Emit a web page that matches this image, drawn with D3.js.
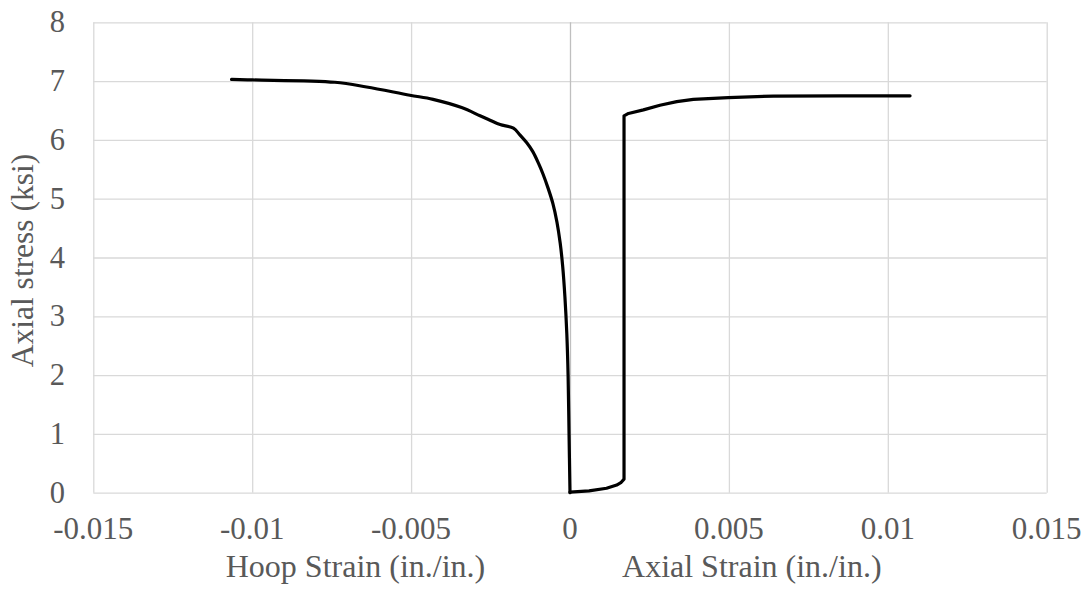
<!DOCTYPE html>
<html>
<head>
<meta charset="utf-8">
<script src="https://cdn.jsdelivr.net/npm/d3@7/dist/d3.min.js"></script>
<style>
  html, body { margin: 0; padding: 0; background: #fff; }
  svg { display: block; }
</style>
</head>
<body>
<svg id="chart" width="1088" height="589"></svg>
<script>
// Hoop strain branch (left of zero), listed from the origin outward
const hoopStrain = [0, -0.00003, -0.00006, -0.0001, -0.00016, -0.00023, -0.00031, -0.00041,
  -0.00054, -0.00069, -0.00085, -0.00099, -0.00117, -0.00136, -0.00157, -0.00178, -0.0022,
  -0.0025, -0.00283, -0.00341, -0.00431, -0.00504, -0.0064, -0.0074, -0.01, -0.01065];
const hoopStress = [0, 1.0, 2.0, 2.7, 3.33, 3.85, 4.25, 4.6,
  4.92, 5.18, 5.42, 5.6, 5.8, 5.95, 6.08, 6.2, 6.26,
  6.33, 6.41, 6.55, 6.69, 6.76, 6.9, 6.98, 7.02, 7.03];

// Axial strain branch (right of zero)
const axialStrain = [0, 0.0006, 0.00115, 0.00147, 0.0016, 0.0017, 0.0017, 0.00184, 0.00231,
  0.00283, 0.00336, 0.00388, 0.00498, 0.0064, 0.0085, 0.0107];
const axialStress = [0.01, 0.03, 0.075, 0.13, 0.17, 0.23, 6.41, 6.45, 6.51,
  6.59, 6.65, 6.69, 6.72, 6.745, 6.75, 6.75];

const xTicks = [-0.015, -0.01, -0.005, 0, 0.005, 0.01, 0.015];
const xTickLabels = ["-0.015", "-0.01", "-0.005", "0", "0.005", "0.01", "0.015"];
const yTicks = [0, 1, 2, 3, 4, 5, 6, 7, 8];

const yTitle = "Axial stress (ksi)";
const hoopTitle = "Hoop Strain (in./in.)";
const axialTitle = "Axial Strain (in./in.)";

const FONT = "'Times New Roman', 'Liberation Serif', serif";
const TEXT_COLOR = "#595959";

const svg = d3.select("#chart");
const plotLeft = 93.3, plotRight = 1046.7, plotTop = 22.3, plotBottom = 492.7;

const x = d3.scaleLinear().domain([-0.015, 0.015]).range([plotLeft, plotRight]);
const y = d3.scaleLinear().domain([0, 8]).range([plotBottom, plotTop]);

// Horizontal gridlines
svg.append("g")
  .attr("transform", `translate(${plotLeft},0)`)
  .call(d3.axisLeft(y).tickValues(yTicks).tickSize(-(plotRight - plotLeft)).tickFormat(""))
  .call(g => g.select(".domain").remove())
  .call(g => g.selectAll("line").attr("stroke", "#d9d9d9").attr("stroke-width", 1.3));

// Vertical gridlines (the zero line is the value axis, a shade darker)
svg.append("g")
  .attr("transform", `translate(0,${plotBottom})`)
  .call(d3.axisBottom(x).tickValues(xTicks).tickSize(-(plotBottom - plotTop)).tickFormat(""))
  .call(g => g.select(".domain").remove())
  .call(g => g.selectAll("line")
    .attr("stroke", d => d === 0 ? "#bfbfbf" : "#d9d9d9")
    .attr("stroke-width", 1.3));

const labels = svg.append("g")
  .attr("font-family", FONT)
  .attr("fill", TEXT_COLOR);

// Y tick labels
labels.append("g")
  .selectAll("text")
  .data(yTicks)
  .join("text")
  .attr("x", 65)
  .attr("y", d => y(d) + 10)
  .attr("text-anchor", "end")
  .attr("font-size", 30.5)
  .text(d => d);

// X tick labels
labels.append("g")
  .selectAll("text")
  .data(xTicks)
  .join("text")
  .attr("x", d => x(d))
  .attr("y", 539)
  .attr("text-anchor", "middle")
  .attr("font-size", 31)
  .text((d, i) => xTickLabels[i]);

// Axis titles
labels.append("text")
  .attr("transform", `translate(33,${(plotTop + plotBottom) / 2 + 3}) rotate(-90)`)
  .attr("text-anchor", "middle")
  .attr("font-size", 31.5)
  .text(yTitle);

labels.append("text")
  .attr("x", x(-0.00675))
  .attr("y", 577)
  .attr("text-anchor", "middle")
  .attr("font-size", 32)
  .text(hoopTitle);

labels.append("text")
  .attr("x", x(0.00572))
  .attr("y", 577)
  .attr("text-anchor", "middle")
  .attr("font-size", 32)
  .text(axialTitle);

// Stress-strain curves: the hoop branch is smoothed, the axial branch keeps its sharp jump
const hoopLine = d3.line().x(d => x(d[0])).y(d => y(d[1])).curve(d3.curveCatmullRom.alpha(0.5));
const axialLine = d3.line().x(d => x(d[0])).y(d => y(d[1]));

const curves = svg.append("g")
  .attr("fill", "none")
  .attr("stroke", "#000")
  .attr("stroke-width", 3.2)
  .attr("stroke-linejoin", "round")
  .attr("stroke-linecap", "round");

curves.append("path").attr("d", hoopLine(d3.zip(hoopStrain, hoopStress)));
curves.append("path").attr("d", axialLine(d3.zip(axialStrain, axialStress)));
</script>
</body>
</html>
